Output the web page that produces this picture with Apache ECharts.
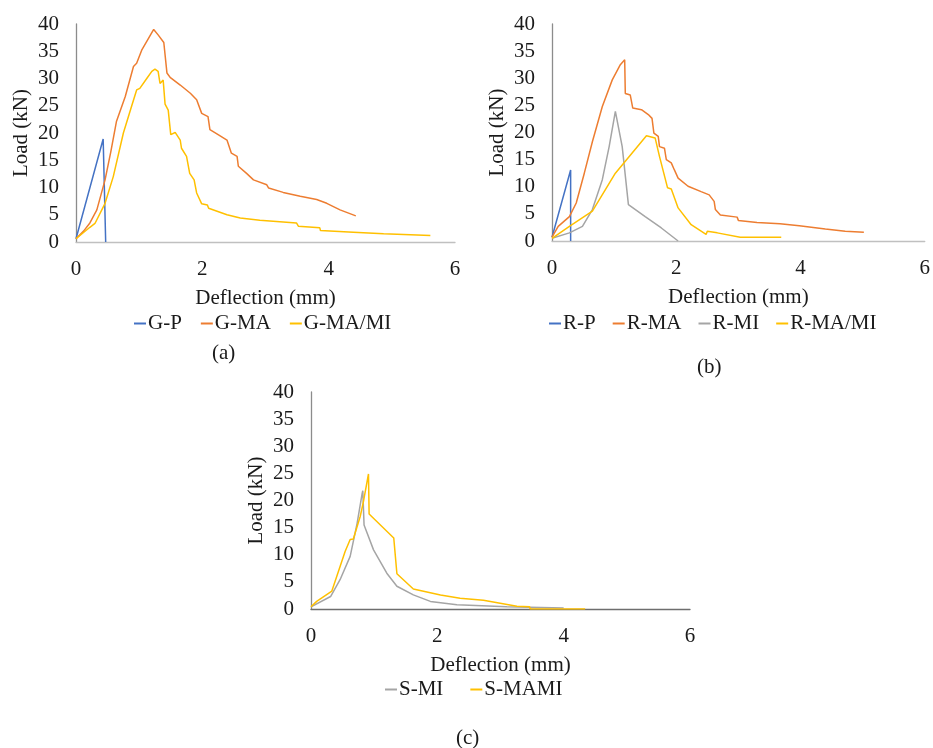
<!DOCTYPE html>
<html><head><meta charset="utf-8">
<script src="https://cdn.jsdelivr.net/npm/echarts@6/dist/echarts.min.js"></script>
<style>html,body{margin:0;padding:0;background:#fff}#c{width:933px;height:748px}</style>
</head><body><div id="c"></div>
<script>
// ---- data (deflection mm, load kN) ----
const xAxisMin = 0, xAxisMax = 6, xAxisStep = 2;
const yAxisMin = 0, yAxisMax = 40, yAxisStep = 5;
const xTitle = 'Deflection (mm)';
const yTitle = 'Load (kN)';
const captions = ['(a)', '(b)', '(c)'];

const namesA = ['G-P', 'G-MA', 'G-MA/MI'];
const namesB = ['R-P', 'R-MA', 'R-MI', 'R-MA/MI'];
const namesC = ['S-MI', 'S-MAMI'];

const G_P = [[0,0.6],[0.43,18.9],[0.47,0]];
const G_MA = [[0,0.6],[0.12,2.0],[0.22,3.5],[0.33,5.9],[0.46,11.4],[0.55,16.5],[0.64,22.1],[0.78,26.7],[0.91,32.2],[0.96,32.8],[1.04,35.2],[1.15,37.4],[1.23,39.0],[1.30,38.0],[1.39,36.6],[1.44,31.0],[1.49,30.2],[1.65,28.8],[1.81,27.3],[1.91,26.1],[1.99,23.6],[2.09,23.0],[2.12,20.6],[2.25,19.7],[2.39,18.7],[2.46,16.3],[2.55,15.7],[2.57,13.9],[2.70,12.6],[2.81,11.4],[3.02,10.5],[3.05,9.9],[3.28,9.1],[3.55,8.4],[3.81,7.8],[3.97,7.1],[4.18,5.9],[4.43,4.8]];
const G_MAMI = [[0,0.6],[0.22,2.7],[0.30,3.4],[0.46,7.1],[0.59,12.0],[0.75,20.0],[0.88,24.9],[0.96,27.9],[1.01,28.2],[1.12,30.0],[1.20,31.3],[1.25,31.7],[1.30,31.3],[1.33,29.1],[1.38,29.7],[1.41,25.3],[1.46,24.2],[1.50,19.7],[1.57,20.1],[1.65,18.7],[1.67,17.2],[1.75,15.7],[1.80,12.6],[1.87,11.4],[1.91,9.0],[1.99,7.0],[2.08,6.8],[2.10,6.2],[2.39,5.0],[2.60,4.4],[2.91,4.0],[3.49,3.5],[3.52,2.9],[3.86,2.6],[3.87,2.1],[4.39,1.8],[4.87,1.5],[5.61,1.2]];

const R_P = [[0,0.7],[0.30,13.1],[0.30,0]];
const R_MA = [[0,0.7],[0.10,2.7],[0.28,4.5],[0.39,7.0],[0.52,12.5],[0.65,18.3],[0.81,24.8],[0.97,29.7],[1.10,32.5],[1.17,33.4],[1.18,27.2],[1.26,26.9],[1.30,24.5],[1.44,24.2],[1.55,23.3],[1.61,22.6],[1.64,19.9],[1.71,19.3],[1.73,17.4],[1.81,17.1],[1.84,15.0],[1.92,14.4],[1.97,13.1],[2.03,11.6],[2.19,10.1],[2.40,9.1],[2.53,8.5],[2.61,7.3],[2.63,5.8],[2.71,4.8],[2.98,4.4],[3.00,3.8],[3.30,3.4],[3.67,3.2],[3.98,2.8],[4.40,2.2],[4.72,1.8],[5.02,1.6]];
const R_MI = [[0,0.5],[0.28,1.5],[0.49,2.7],[0.65,5.8],[0.81,11.3],[0.92,17.4],[1.02,23.9],[1.13,17.4],[1.23,6.7],[1.50,4.5],[1.76,2.4],[2.03,0]];
const R_MAMI = [[0,0.5],[0.28,2.7],[0.65,5.5],[1.02,12.5],[1.52,19.4],[1.66,19.0],[1.73,15.6],[1.86,9.8],[1.92,9.6],[2.03,6.1],[2.24,3.0],[2.48,1.2],[2.50,1.8],[2.66,1.5],[3.03,0.7],[3.69,0.7]];

const S_MI = [[0,0.4],[0.31,2.3],[0.46,5.4],[0.62,9.7],[0.73,15.8],[0.81,21.3],[0.82,21.8],[0.84,15.5],[0.99,10.9],[1.20,6.6],[1.36,4.2],[1.62,2.6],[1.89,1.4],[2.31,0.8],[3.10,0.4],[4.00,0.2]];
const S_MAMI = [[0,0.4],[0.09,1.4],[0.33,3.3],[0.54,10.6],[0.62,12.8],[0.67,12.9],[0.78,17.1],[0.83,19.8],[0.91,24.9],[0.92,17.5],[1.31,13.1],[1.36,6.5],[1.62,3.7],[2.05,2.6],[2.36,2.0],[2.73,1.6],[3.26,0.5],[3.46,0.4],[3.47,0],[4.34,0]];

// ---- styling ----
const FONT = "'Liberation Serif', 'Times New Roman', serif";
const TXT = '#1a1a1a';
const C = {blue:'#4472C4', orange:'#ED7D31', gray:'#A5A5A5', yellow:'#FFC000'};
const FS = 21;

const grids = [
  {left:76, top:24, width:379, height:218},
  {left:552, top:24, width:378, height:217},
  {left:311, top:392, width:379, height:217}
];

function xAx(i, axisColor){
  return {type:'value', gridIndex:i, min:xAxisMin, max:xAxisMax, interval:xAxisStep,
    name:xTitle, nameLocation:'middle', nameGap:46,
    nameTextStyle:{fontFamily:FONT, fontSize:FS, color:TXT},
    axisLine:{show:true, onZero:false, lineStyle:{color:axisColor, width:1.3}},
    axisTick:{show:false}, splitLine:{show:false},
    axisLabel:{fontFamily:FONT, fontSize:FS, color:TXT, margin:17}};
}
function yAx(i){
  return {type:'value', gridIndex:i, min:yAxisMin, max:yAxisMax, interval:yAxisStep,
    name:yTitle, nameLocation:'middle', nameGap:44, nameRotate:90,
    nameTextStyle:{fontFamily:FONT, fontSize:FS, color:TXT},
    axisLine:{show:true, lineStyle:{color:'#8c8c8c', width:1.3}},
    axisTick:{show:false}, splitLine:{show:false},
    axisLabel:{fontFamily:FONT, fontSize:FS, color:TXT, margin:17}};
}
function ser(name, data, color, i){
  return {type:'line', name, data, xAxisIndex:i, yAxisIndex:i, showSymbol:false, symbol:'none',
    lineStyle:{color, width:1.5}, itemStyle:{color}, animation:false};
}
function legend(names, left, top, gap){
  return {data:names, left, top, icon:'rect', itemWidth:12, itemHeight:2, itemGap:gap,
    textStyle:{fontFamily:FONT, fontSize:FS, color:TXT, padding:[0,0,0,-3]}};
}
function caption(text, cx, cy){
  return {type:'text', left:cx-14, top:cy-12, style:{text, font:FS+'px '+FONT, fill:TXT}};
}

const chart = echarts.init(document.getElementById('c'), null, {renderer:'canvas'});
chart.setOption({
  backgroundColor:'#fff',
  animation:false,
  grid:grids,
  xAxis:[xAx(0,'#c0c0c0'), xAx(1,'#c0c0c0'), xAx(2,'#6e6e6e')],
  yAxis:[yAx(0), yAx(1), yAx(2)],
  legend:[legend(namesA, 129, 308, 19), legend(namesB, 544, 308, 17), legend(namesC, 380, 674, 27)],
  series:[
    ser(namesA[0], G_P, C.blue, 0),
    ser(namesA[1], G_MA, C.orange, 0),
    ser(namesA[2], G_MAMI, C.yellow, 0),
    ser(namesB[0], R_P, C.blue, 1),
    ser(namesB[1], R_MA, C.orange, 1),
    ser(namesB[2], R_MI, C.gray, 1),
    ser(namesB[3], R_MAMI, C.yellow, 1),
    ser(namesC[0], S_MI, C.gray, 2),
    ser(namesC[1], S_MAMI, C.yellow, 2)
  ],
  graphic:[caption(captions[0], 226, 355), caption(captions[1], 711, 369), caption(captions[2], 470, 740)]
});
</script></body></html>
